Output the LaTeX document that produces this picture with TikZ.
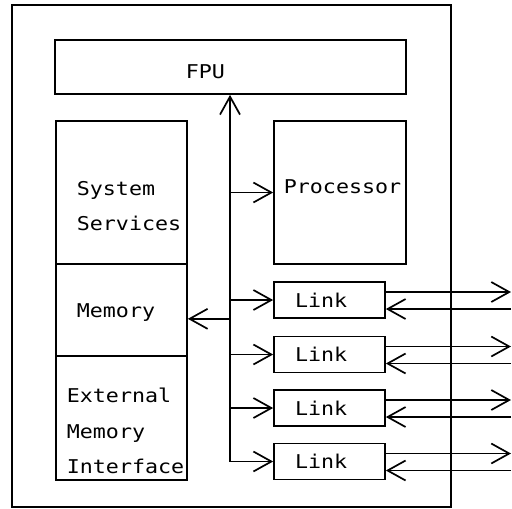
\documentclass[tikz,border=0pt]{standalone}
\usepackage{fontspec}
\newfontfamily\plotfont[FakeStretch=1.14]{DejaVu Sans Mono}
\usepackage{tikz}
\usetikzlibrary{arrows.meta}

\begin{document}
\begin{tikzpicture}[x=1pt, y=-1pt, line width=1.7pt,
  every node/.style={font=\plotfont\fontsize{19}{22.8}\selectfont},
  box/.style={shape=rectangle, draw=black},
  linkbox/.style={shape=rectangle, draw=black, minimum height=36pt, text width=69pt, inner xsep=21pt, align=left},
  lbl/.style={anchor=west, inner sep=0pt, align=left},
  arr/.style={-{Straight Barb[length=18pt,width=20pt]}}]
\useasboundingbox (0,0) rectangle (512,509);
\node [box, minimum width=439pt, minimum height=502pt] (chip) at (231.5,256) {};
\node [box, minimum width=351pt, minimum height=54pt] (fpu) at (230.5,67) {};
\node [lbl] (fpul) at (185,71.5) {FPU};
\node [box, minimum width=131pt, minimum height=143pt] (ss) at (121.5,192.5) {};
\node [lbl] (ssl) at (76,206) {System\\[13pt]Services};
\node [box, minimum width=131pt, minimum height=92pt] (mem) at (121.5,310) {};
\node [lbl] (meml) at (76,313) {Memory};
\node [box, minimum width=131pt, minimum height=124pt] (emi) at (121.5,418) {};
\node [lbl] (emil) at (66,431) {External\\[13pt]Memory\\[13pt]Interface};
\node [box, minimum width=132pt, minimum height=143pt] (proc) at (340,192.5) {};
\node [lbl] (procl) at (283,187) {Processor};
\foreach \i/\y in {1/300, 2/354.5, 3/408, 4/461.5}
  \node [linkbox] (link\i) at (329.5,\y) {Link};
\coordinate (bus) at (230,0);
\coordinate (rim) at (511,0);

\draw [{Straight Barb[length=18pt,width=20pt]}-{Straight Barb[length=18pt,width=20pt]}] (bus |- fpu.south) |- (link4.west);
\path [arr] (bus |- proc.west) edge (proc.west);
\path [arr] (bus |- link1.south) edge (mem.east |- link1.south);
\foreach \i in {1,2,3}
  \path [arr] (bus |- link\i.west) edge (link\i.west);
\foreach \i in {1,...,4} {
  \path [arr] ([yshift=8pt]link\i.east) edge ([yshift=8pt]link\i.east -| rim);
  \path [arr] ([yshift=-9pt]link\i.east -| rim) edge ([yshift=-9pt]link\i.east);
}
\end{tikzpicture}
\end{document}
